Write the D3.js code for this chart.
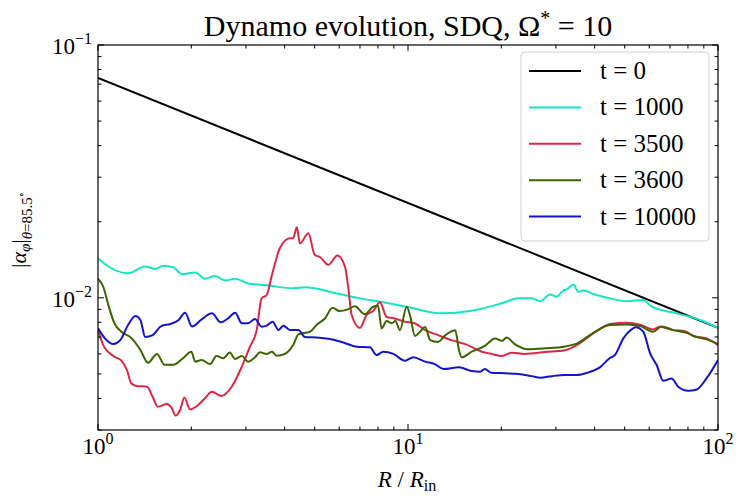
<!DOCTYPE html>
<html>
<head>
<meta charset="utf-8">
<script src="https://cdn.jsdelivr.net/npm/d3@7"></script>
<style>
  body { margin: 0; background: white; }
  svg text { font-family: "Liberation Serif", "Times New Roman", "DejaVu Serif", serif; fill: black; }
</style>
</head>
<body>
<div id="chart"></div>
<script>
// ----- data -----
const labels = ["t = 0", "t = 1000", "t = 3500", "t = 3600", "t = 10000"];
const colors = ["#000000", "#14e6c3", "#dc2846", "#3c6400", "#1414c8"];

const r_t0 = [1, 100];
const a_t0 = [0.0741, 0.0076];

const r_t1000 = [1.00, 1.08, 1.25, 1.42, 1.53, 1.62, 1.75, 1.87, 2.06, 2.21, 2.38, 2.57, 2.77, 3.05, 3.51, 4.26,
  4.65, 5.89, 7.0, 8.32, 9.90, 12.85, 16.05, 20.06, 22.7, 25.05, 26.7, 28.7, 30.2, 31.7, 32.5, 34.2, 35.4, 36.8,
  39.6, 44.8, 50.7, 57.4, 61.1, 73.6, 87.5, 100];
const a_t1000 = [0.0143, 0.0133, 0.0125, 0.0133, 0.0130, 0.0134, 0.0132, 0.0124, 0.0126, 0.0119, 0.0122, 0.0117,
  0.0119, 0.0114, 0.0112, 0.0109, 0.0110, 0.0104, 0.00995, 0.0096, 0.00922, 0.00868, 0.00889, 0.00951, 0.00995,
  0.00995, 0.0097, 0.0103, 0.0101, 0.0107, 0.0108, 0.0113, 0.01056, 0.0107, 0.01035, 0.00995, 0.0097, 0.0098,
  0.00922, 0.00868, 0.00817, 0.0076];

const r_t3500 = [1.00, 1.04, 1.13, 1.19, 1.24, 1.28, 1.33, 1.44, 1.50, 1.56, 1.67, 1.73, 1.78, 1.84, 1.90, 1.98,
  2.10, 2.21, 2.33, 2.50, 2.70, 2.91, 3.09, 3.25, 3.37, 3.50, 3.64, 3.86, 4.16, 4.26, 4.38, 4.48, 4.77, 5.0, 5.2,
  5.53, 5.92, 6.26, 6.42, 6.58, 7.0, 7.35, 7.72, 8.12, 8.53, 9.0, 9.78, 10.5, 11.35, 12.5, 13.8, 15.3, 17.3, 18.6,
  20.1, 21.6, 23.8, 27.7, 32.1, 35.0, 39.6, 44.8, 50.7, 56.1, 61.8, 64.9, 71.7, 78.2, 83.3, 91.9, 100];
const a_t3500 = [0.00745, 0.0065, 0.00585, 0.00564, 0.00518, 0.00459, 0.00448, 0.00445, 0.00406, 0.00371, 0.0038,
  0.00366, 0.00342, 0.0036, 0.00403, 0.00362, 0.00376, 0.0040, 0.00425, 0.00409, 0.00445, 0.00534, 0.0064, 0.00745,
  0.00995, 0.01026, 0.0123, 0.0157, 0.0172, 0.0172, 0.0190, 0.0164, 0.0180, 0.0148, 0.0145, 0.0135, 0.0147, 0.0133,
  0.0109, 0.00855, 0.0076, 0.00855, 0.00887, 0.0096, 0.0084, 0.0083, 0.00804, 0.00793, 0.00745, 0.00712, 0.0068,
  0.00656, 0.00612, 0.0060, 0.00589, 0.00606, 0.0060, 0.0061, 0.0062, 0.0065, 0.00723, 0.00788, 0.00797, 0.00783,
  0.0075, 0.00768, 0.00745, 0.00738, 0.00706, 0.00691, 0.0065];

const r_t3600 = [1.00, 1.04, 1.08, 1.13, 1.19, 1.285, 1.37, 1.45, 1.55, 1.64, 1.75, 1.88, 2.0, 2.06, 2.16, 2.30,
  2.41, 2.54, 2.66, 2.77, 2.91, 3.05, 3.21, 3.33, 3.50, 3.64, 3.77, 4.01, 4.26, 4.43, 4.83, 5.07, 5.40, 5.71, 6.0,
  6.40, 6.74, 7.26, 7.72, 8.0, 8.22, 8.53, 8.87, 9.1, 9.42, 9.90, 10.15, 10.53, 10.93, 11.35, 11.8, 12.5, 13.2,
  14.2, 14.6, 14.9, 16.05, 17.7, 19.1, 20.1, 20.8, 22.1, 24.4, 27.7, 32.1, 35.0, 39.6, 44.8, 50.7, 56.1, 61.8,
  65.8, 71.7, 80.2, 83.3, 91.9, 100];
const a_t3600 = [0.0119, 0.01106, 0.00936, 0.00792, 0.00734, 0.00691, 0.00622, 0.00553, 0.0060, 0.00543, 0.00543,
  0.00577, 0.00612, 0.00559, 0.00568, 0.00547, 0.00589, 0.00577, 0.00607, 0.00573, 0.00589, 0.00559, 0.00582,
  0.00609, 0.0060, 0.00612, 0.0059, 0.0060, 0.0065, 0.00717, 0.00734, 0.00781, 0.0083, 0.00914, 0.00887, 0.0090,
  0.00925, 0.0086, 0.00922, 0.0093, 0.00757, 0.0081, 0.00793, 0.0081, 0.00745, 0.00922, 0.00852, 0.00706, 0.00734,
  0.00766, 0.0068, 0.00669, 0.00712, 0.00745, 0.00622, 0.00582, 0.00612, 0.00645, 0.00691, 0.00676, 0.00696,
  0.00656, 0.00626, 0.00631, 0.00642, 0.00659, 0.00727, 0.0078, 0.00785, 0.00773, 0.00734, 0.0077, 0.00745,
  0.00723, 0.00706, 0.00685, 0.00656];

const r_t10000 = [1.00, 1.053, 1.12, 1.18, 1.25, 1.32, 1.37, 1.42, 1.50, 1.60, 1.71, 1.82, 1.91, 2.01, 2.16, 2.33,
  2.49, 2.63, 2.77, 2.91, 3.05, 3.21, 3.37, 3.50, 3.66, 3.82, 3.96, 4.16, 4.43, 4.65, 5.07, 5.60, 6.18, 6.83, 7.54,
  7.92, 8.32, 8.97, 9.78, 10.4, 11.35, 12.2, 13.0, 14.6, 16.05, 17.1, 17.7, 18.6, 20.6, 22.7, 25.05, 26.7, 29.1,
  32.1, 35.0, 38.0, 41.6, 44.8, 46.5, 49.5, 52.6, 54.3, 57.4, 60.4, 63.4, 66.6, 70.9, 74.4, 80.1, 85.4, 91.9, 100];
const a_t10000 = [0.00757, 0.00691, 0.00656, 0.0068, 0.00781, 0.00847, 0.00817, 0.0070, 0.00712, 0.00773, 0.00788,
  0.00817, 0.00873, 0.0077, 0.00822, 0.00868, 0.0080, 0.0083, 0.00873, 0.00793, 0.00793, 0.00825, 0.00769, 0.00776,
  0.00804, 0.00746, 0.00776, 0.00746, 0.00746, 0.0070, 0.00697, 0.00687, 0.00666, 0.00641, 0.00637, 0.00594,
  0.00612, 0.0060, 0.00564, 0.00582, 0.00559, 0.00547, 0.00523, 0.00531, 0.00513, 0.0051, 0.00523, 0.00505,
  0.00503, 0.0050, 0.0049, 0.00483, 0.0049, 0.00495, 0.00495, 0.00506, 0.00531, 0.00578, 0.00594, 0.00691, 0.0075,
  0.00764, 0.00734, 0.00603, 0.00542, 0.0047, 0.0048, 0.00445, 0.00429, 0.00434, 0.00481, 0.00568];

const xTicks = [1, 10, 100];
const xTickExp = ["0", "1", "2"];
const yTicks = [0.01, 0.1];
const yTickExp = ["\u22122", "\u22121"];

const seriesR = [r_t0, r_t1000, r_t3500, r_t3600, r_t10000];
const seriesA = [a_t0, a_t1000, a_t3500, a_t3600, a_t10000];

const SERIF = "'Liberation Serif', 'Times New Roman', 'DejaVu Serif', serif";

// ----- layout -----
const W = 745, H = 502;
const svg = d3.select("#chart").append("svg")
  .attr("width", W).attr("height", H)
  .attr("font-family", SERIF);

const x = d3.scaleLog().domain([1, 100]).range([98, 718]);
const y = d3.scaleLog().domain([0.003, 0.1]).range([430, 45]);

// clip
svg.append("clipPath").attr("id", "clip")
  .append("rect").attr("x", 98).attr("y", 45).attr("width", 620).attr("height", 385);

// ----- curves -----
const line = d3.line().x(d => x(d[0])).y(d => y(d[1])).curve(d3.curveMonotoneX);
seriesR.forEach((rs, i) => {
  const pts = rs.map((r, j) => [r, seriesA[i][j]]);
  svg.append("path")
    .datum(pts)
    .attr("clip-path", "url(#clip)")
    .attr("fill", "none")
    .attr("stroke", colors[i])
    .attr("stroke-width", 2)
    .attr("stroke-linejoin", "round")
    .attr("d", line);
});

// ----- ticks (inward, all four sides) -----
const xMinor = [];
[1, 10].forEach(d => { for (let k = 2; k <= 9; k++) xMinor.push(d * k); });
const yMinor = [];
[0.001, 0.01].forEach(d => { for (let k = 2; k <= 9; k++) if (d * k >= 0.003 && d * k < 0.1) yMinor.push(d * k); });

const tickG = svg.append("g").attr("stroke", "black").attr("stroke-width", 1);
function vTick(px, len) {
  tickG.append("line").attr("x1", px).attr("x2", px).attr("y1", 430).attr("y2", 430 - len);
  tickG.append("line").attr("x1", px).attr("x2", px).attr("y1", 45).attr("y2", 45 + len);
}
function hTick(py, len) {
  tickG.append("line").attr("x1", 98).attr("x2", 98 + len).attr("y1", py).attr("y2", py);
  tickG.append("line").attr("x1", 718).attr("x2", 718 - len).attr("y1", py).attr("y2", py);
}
xTicks.forEach(t => vTick(x(t), 6));
xMinor.forEach(t => vTick(x(t), 3.5));
yTicks.forEach(t => hTick(y(t), 6));
yMinor.forEach(t => hTick(y(t), 3.5));

// frame
svg.append("rect")
  .attr("x", 98).attr("y", 45).attr("width", 620).attr("height", 385)
  .attr("fill", "none").attr("stroke", "black").attr("stroke-width", 1.2);

// ----- tick labels -----
xTicks.forEach((t, i) => {
  const tx = svg.append("text")
    .attr("x", x(t)).attr("y", 454)
    .attr("text-anchor", "middle")
    .style("font-size", "23px");
  tx.append("tspan").text("10");
  tx.append("tspan").attr("dy", -10).style("font-size", "16px").text(xTickExp[i]);
});

yTicks.forEach((t, i) => {
  const ty = svg.append("text")
    .attr("x", 92).attr("y", y(t) + 9)
    .attr("text-anchor", "end")
    .style("font-size", "23px");
  ty.append("tspan").text("10");
  ty.append("tspan").attr("dy", -10).style("font-size", "16px").text(yTickExp[i]);
});

// ----- axis labels -----
const xl = svg.append("text")
  .attr("x", 407).attr("y", 487)
  .attr("text-anchor", "middle")
  .style("font-size", "23px");
xl.append("tspan").style("font-style", "italic").text("R");
xl.append("tspan").text(" / ");
xl.append("tspan").style("font-style", "italic").text("R");
xl.append("tspan").attr("dy", 4).style("font-size", "16px").text("in");

// y label, drawn upward from its lower end
const yl = svg.append("text")
  .attr("transform", "translate(26,268) rotate(-90)")
  .attr("text-anchor", "start")
  .style("font-size", "22px");
yl.append("tspan").text("|");
yl.append("tspan").style("font-style", "italic").text("α");
yl.append("tspan").attr("dy", 4).style("font-size", "15px").style("font-style", "italic").text("φ");
yl.append("tspan").attr("dy", -4).text("|");
yl.append("tspan").attr("dy", 6).style("font-size", "15px").style("font-style", "italic").text("θ");
yl.append("tspan").style("font-size", "15px").text("=85.5");
yl.append("tspan").attr("dy", -7).style("font-size", "11px").text("∘");

// ----- title -----
const title = svg.append("text")
  .attr("x", 408).attr("y", 36)
  .attr("text-anchor", "middle")
  .style("font-size", "30px");
title.append("tspan").text("Dynamo evolution, SDQ, Ω");
title.append("tspan").attr("dy", -11).style("font-size", "20px").text("*");
title.append("tspan").attr("dy", 11).text(" = 10");

// ----- legend -----
const lg = svg.append("g");
lg.append("rect")
  .attr("x", 521).attr("y", 52).attr("width", 188).attr("height", 189).attr("rx", 4)
  .attr("fill", "white").attr("fill-opacity", 0.8)
  .attr("stroke", "#d0d0d0").attr("stroke-width", 1);
labels.forEach((lab, i) => {
  const ry = 71 + i * 36.4;
  lg.append("line")
    .attr("x1", 529).attr("x2", 581).attr("y1", ry).attr("y2", ry)
    .attr("stroke", colors[i]).attr("stroke-width", 2);
  lg.append("text")
    .attr("x", 600).attr("y", ry + 8)
    .style("font-size", "25px")
    .text(lab);
});
</script>
</body>
</html>
